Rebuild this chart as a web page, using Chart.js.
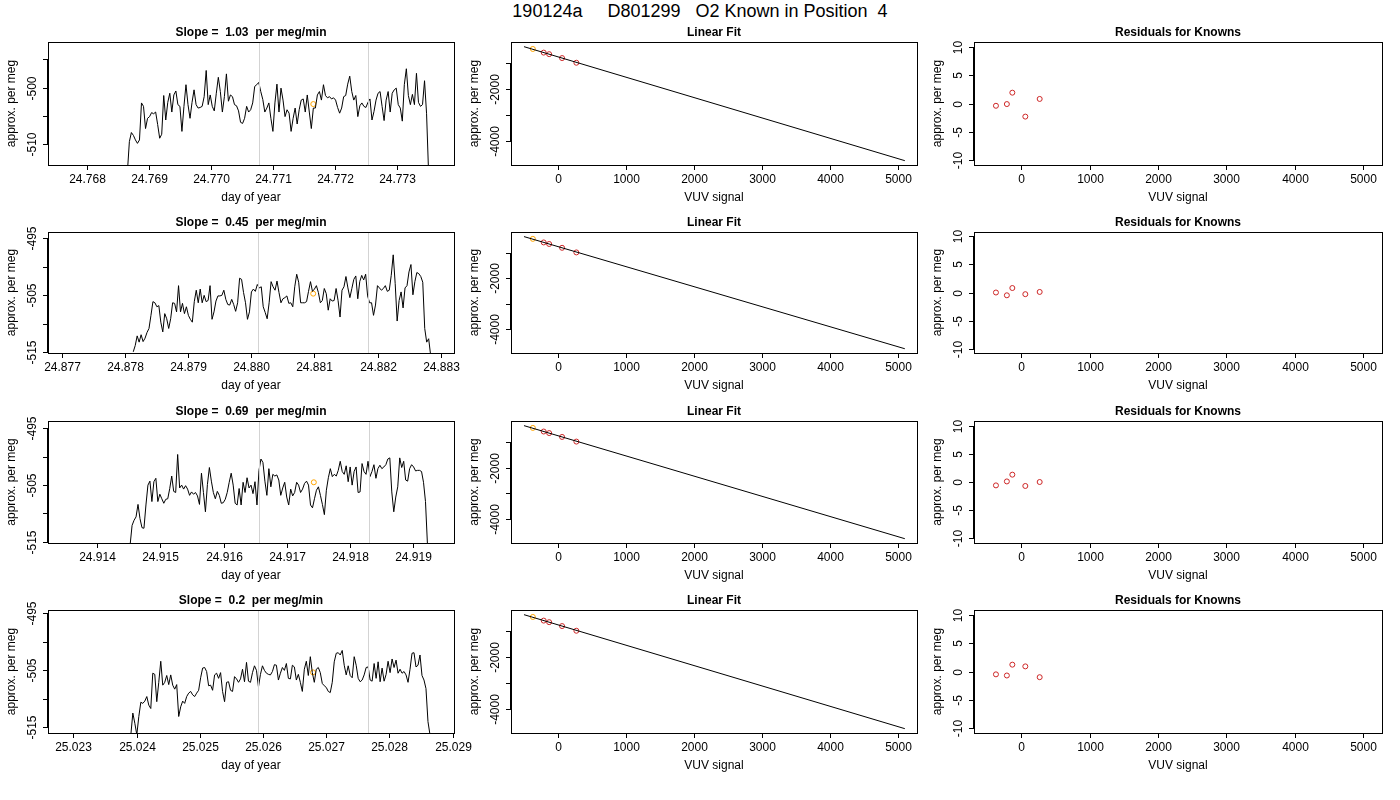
<!DOCTYPE html>
<html>
<head>
<meta charset="utf-8">
<script src="https://cdn.jsdelivr.net/npm/chart.js@4.4.1/dist/chart.umd.min.js"></script>
<style>
  body { margin: 0; background: #fff; width: 1400px; height: 800px; position: relative; overflow: hidden; font-family: "Liberation Sans", Arial, sans-serif; }
  #main { position: absolute; left: 0; top: 0; width: 1400px; text-align: center; font-size: 18px; line-height: 22px; white-space: pre; }
  canvas { position: absolute; }
</style>
</head>
<body>
<div id="main">190124a     D801299   O2 Known in Position  4</div>
<script>
// ---- data ----
var slopes = ['1.03', '0.45', '0.69', '0.2'];

// time series: start / end day of year, values evenly spaced between
var tsStart = [24.76865, 24.87813, 24.91452, 25.02391];
var tsEnd = [24.77351, 24.88284, 24.91923, 25.02864];
var tsXMin = [24.76737, 24.87678, 24.91322, 25.02260];
var tsXMax = [24.77392, 24.88321, 24.91965, 25.02902];
var tsYMin = [-513.6, -515.1, -515.2, -516.0];
var tsYMax = [-492.0, -493.9, -493.7, -494.4];
var tsXTicks = [
  [24.768, 24.769, 24.770, 24.771, 24.772, 24.773],
  [24.877, 24.878, 24.879, 24.880, 24.881, 24.882, 24.883],
  [24.914, 24.915, 24.916, 24.917, 24.918, 24.919],
  [25.023, 25.024, 25.025, 25.026, 25.027, 25.028, 25.029]
];
var tsYTicks = [-515, -510, -505, -500, -495];
var tsYLabelled = [[-510, -500], [-515, -505, -495], [-515, -505, -495], [-515, -505, -495]];

// grey vertical markers and the orange point
var markerA = [24.77077, 24.88011, 24.91656, 25.02592];
var markerB = [24.77254, 24.88185, 24.91830, 25.02766];
var orangeT = [24.77165, 24.88098, 24.91743, 25.02679];
var orangeV = [-502.9, -504.7, -504.5, -505.35];

var series1 = [-515, -509.5, -507.9, -508.4, -509.2, -509.8, -509.2, -502.7, -503.3, -507.2, -505.4, -505.1, -504.4, -504.6, -504.3, -506.5, -508.9, -508.2, -501.4, -505.7, -502.6, -501.0, -504.3, -501.3, -500.6, -503.0, -503.3, -507.7, -503.3, -499.5, -503.0, -505.4, -502.6, -500.4, -503.0, -503.6, -503.5, -503.3, -501.6, -497.0, -503.0, -501.3, -503.3, -504.1, -501.0, -498.2, -500.7, -504.3, -501.6, -497.6, -502.4, -501.3, -501.6, -503.0, -503.2, -504.1, -506.1, -506.3, -505.4, -503.3, -504.3, -503.9, -502.7, -499.8, -499.5, -499.1, -500.7, -502.1, -504.3, -503.6, -502.7, -505.4, -507.7, -502.7, -499.4, -504.3, -500.1, -502.2, -505.1, -503.9, -504.5, -507.7, -505.4, -503.6, -506.4, -503.9, -502.2, -502.0, -504.3, -501.3, -504.3, -507.2, -503.6, -503.6, -501.3, -500.7, -502.2, -499.5, -501.4, -501.8, -501.6, -502.0, -501.8, -502.2, -503.5, -504.5, -503.6, -501.6, -501.4, -499.4, -498.0, -500.7, -502.2, -501.4, -505.1, -503.2, -502.7, -503.3, -503.5, -502.6, -502.0, -505.7, -504.2, -502.2, -501.0, -500.7, -503.3, -505.8, -502.2, -500.7, -504.3, -501.0, -500.4, -500.1, -503.0, -503.6, -505.9, -499.5, -496.7, -501.4, -503.0, -501.2, -503.0, -497.5, -502.6, -503.3, -503.0, -498.8, -504.6, -515];
var series2 = [-514.9, -513.8, -512.1, -513.2, -511.9, -513.1, -512.5, -511.5, -510.8, -508.5, -506.1, -506.3, -507.0, -506.8, -509.7, -511.4, -508.2, -509.1, -510.8, -509.1, -506.3, -506.4, -507.9, -503.3, -507.9, -506.4, -508.2, -507.0, -508.5, -509.2, -509.7, -506.1, -504.1, -506.3, -503.9, -506.3, -505.0, -506.1, -505.9, -503.3, -509.2, -507.9, -506.0, -505.1, -505.1, -505.0, -504.1, -505.7, -506.6, -506.7, -505.7, -506.6, -507.8, -506.3, -502.0, -502.2, -504.5, -506.3, -509.2, -507.9, -504.4, -503.9, -504.3, -503.1, -503.7, -503.5, -507.0, -508.0, -509.1, -506.3, -502.6, -503.5, -504.1, -502.5, -504.5, -506.3, -505.6, -505.4, -505.1, -506.4, -506.3, -507.0, -503.5, -501.3, -502.7, -506.3, -506.3, -506.3, -506.1, -504.3, -502.6, -504.3, -503.9, -503.3, -504.5, -506.3, -505.9, -503.8, -504.7, -507.6, -505.6, -506.0, -505.9, -503.8, -505.9, -508.8, -504.1, -503.5, -501.7, -503.7, -505.4, -503.8, -502.2, -501.6, -505.6, -502.6, -501.5, -502.3, -501.3, -505.1, -506.3, -506.3, -508.5, -506.7, -503.3, -503.7, -504.1, -503.8, -503.3, -504.3, -504.1, -501.5, -497.9, -502.9, -509.5, -505.9, -504.4, -507.2, -503.7, -503.3, -500.9, -499.6, -504.9, -502.6, -501.0, -501.2, -501.7, -502.7, -510.8, -513.2, -512.6, -515.5];
var series3 = [-515.6, -512.1, -511.2, -510.6, -508.4, -510.9, -512.5, -512.6, -508.5, -505.0, -504.3, -507.9, -504.4, -503.8, -507.9, -506.6, -507.4, -508.2, -507.5, -507.4, -505.6, -503.4, -506.1, -506.3, -499.6, -505.5, -505.0, -505.7, -505.1, -505.7, -506.8, -506.2, -506.6, -506.3, -506.9, -508.4, -502.9, -506.3, -509.7, -504.9, -501.9, -504.3, -506.3, -507.4, -506.1, -506.8, -508.2, -508.1, -507.5, -506.3, -504.5, -502.9, -505.0, -508.2, -508.5, -505.6, -508.5, -504.5, -506.3, -503.7, -505.5, -505.0, -506.5, -504.4, -508.5, -502.4, -500.4, -501.0, -504.3, -506.8, -502.1, -505.3, -503.1, -503.4, -503.2, -504.1, -506.8, -505.5, -504.5, -507.1, -508.5, -505.7, -506.9, -506.3, -504.5, -505.0, -506.3, -505.7, -504.7, -504.3, -505.0, -508.5, -509.0, -507.4, -505.9, -505.3, -506.8, -508.4, -510.2, -505.9, -503.7, -502.1, -503.5, -503.1, -503.4, -502.4, -500.8, -502.6, -503.1, -501.6, -504.4, -501.8, -505.0, -502.6, -501.8, -506.3, -506.2, -501.2, -502.6, -503.1, -500.8, -503.5, -502.6, -501.4, -503.8, -502.1, -501.5, -502.1, -501.8, -501.4, -500.4, -500.2, -506.2, -509.7, -507.1, -505.3, -500.2, -501.9, -500.8, -504.1, -504.3, -502.1, -501.4, -501.8, -502.5, -502.4, -502.4, -502.6, -504.5, -507.9, -515.6];
var series4 = [-516.3, -512.5, -514.3, -516.3, -513.1, -510.6, -510.8, -510.4, -509.6, -511.1, -511.7, -505.5, -505.7, -510.5, -507.1, -503.4, -507.6, -507.1, -505.9, -507.5, -505.8, -507.6, -508.3, -507.5, -513.1, -511.4, -510.4, -510.8, -509.6, -509.0, -508.7, -509.3, -509.6, -509.0, -508.5, -506.3, -504.6, -504.5, -505.2, -507.7, -507.6, -508.5, -505.8, -505.5, -506.4, -505.4, -508.7, -510.5, -507.1, -507.0, -508.5, -508.7, -506.1, -506.5, -507.1, -506.5, -504.8, -507.0, -503.6, -506.9, -507.1, -505.4, -504.2, -505.0, -507.9, -505.7, -504.2, -505.0, -505.5, -505.7, -505.8, -505.2, -504.0, -504.1, -506.7, -505.5, -504.5, -505.0, -503.8, -506.4, -506.5, -504.1, -504.4, -506.7, -505.7, -507.1, -508.7, -504.8, -503.4, -505.9, -502.6, -505.4, -507.1, -504.8, -504.5, -505.4, -507.3, -507.7, -508.0, -508.7, -508.9, -507.1, -503.5, -502.0, -501.9, -502.3, -501.5, -504.1, -505.8, -504.2, -505.9, -506.3, -502.6, -504.1, -506.4, -507.0, -506.7, -505.8, -504.5, -504.4, -506.7, -506.9, -503.8, -506.4, -503.5, -507.0, -504.6, -506.9, -505.7, -503.4, -505.4, -503.0, -504.5, -503.2, -505.5, -504.8, -505.5, -505.2, -505.8, -507.1, -504.8, -502.0, -501.9, -504.4, -504.1, -502.3, -505.9, -506.7, -508.2, -514.0, -516.3];
var tsSeries = [series1, series2, series3, series4];

// knowns: VUV signal vs approx. per meg, first one drawn orange
var knownX = [-370, -210, -130, 60, 270];
var knownY = [-460, -600, -660, -810, -990];
var fitSlope = -0.783;
var fitIntercept = -763;
var fitXRange = [-500, 5100];
var residuals = [
  [-0.4, -0.1, 1.9, -2.3, 0.8],
  [0.0, -0.5, 0.8, -0.3, 0.1],
  [-0.6, 0.1, 1.3, -0.7, 0.0],
  [-0.5, -0.7, 1.2, 0.9, -1.0]
];
var vuvTicks = [0, 1000, 2000, 3000, 4000, 5000];
var fitYTicks = [-4000, -3000, -2000, -1000];
var fitYLabelled = [-4000, -2000];
var resYTicks = [-10, -5, 0, 5, 10];

// ---- layout ----
var colLeft = [48, 511, 974], colRight = [454, 917, 1382];
var rowTop = [42, 232, 421, 610], rowBottom = [165, 353, 543, 733];
var PAD = { left: 48, right: 16, top: 22, bottom: 45 };
var FONT = '"Liberation Sans", Arial, sans-serif';

// R-style box, ticks and labels drawn with the chart's own scales
var rAxes = {
  id: 'rAxes',
  afterDraw: function (chart) {
    var o = chart.options.plugins.rAxes;
    var ctx = chart.ctx, a = chart.chartArea;
    var sx = chart.scales.x, sy = chart.scales.y;
    ctx.save();
    // grey markers
    (o.vlines || []).forEach(function (v) {
      var px = Math.round(sx.getPixelForValue(v)) + 0.5;
      ctx.strokeStyle = '#d3d3d3'; ctx.lineWidth = 1;
      ctx.beginPath(); ctx.moveTo(px, a.top); ctx.lineTo(px, a.bottom); ctx.stroke();
    });
    ctx.strokeStyle = '#000'; ctx.lineWidth = 1;
    ctx.strokeRect(Math.round(a.left) + 0.5, Math.round(a.top) + 0.5, Math.round(a.right - a.left), Math.round(a.bottom - a.top));
    ctx.fillStyle = '#000';
    ctx.font = '12px ' + FONT;
    // x ticks
    var xs = o.xTicks.map(function (v) { return Math.round(sx.getPixelForValue(v)) + 0.5; });
    ctx.beginPath(); ctx.moveTo(xs[0], a.bottom + 0.5); ctx.lineTo(xs[xs.length - 1], a.bottom + 0.5); ctx.stroke();
    ctx.textAlign = 'center'; ctx.textBaseline = 'middle';
    o.xTicks.forEach(function (v, i) {
      ctx.beginPath(); ctx.moveTo(xs[i], a.bottom); ctx.lineTo(xs[i], a.bottom + 5); ctx.stroke();
      ctx.fillText(Number(v).toFixed(o.xDecimals), xs[i], a.bottom + 15);
    });
    ctx.fillText(o.xTitle, (a.left + a.right) / 2, a.bottom + 33);
    // y ticks (labels rotated like R), only those inside the range
    var yIn = o.yTicks.filter(function (v) { return v >= sy.min && v <= sy.max; });
    var ys = yIn.map(function (v) { return Math.round(sy.getPixelForValue(v)) + 0.5; });
    ctx.beginPath(); ctx.moveTo(a.left - 0.5, ys[0]); ctx.lineTo(a.left - 0.5, ys[ys.length - 1]); ctx.stroke();
    yIn.forEach(function (v, i) {
      ctx.beginPath(); ctx.moveTo(a.left, ys[i]); ctx.lineTo(a.left - 5, ys[i]); ctx.stroke();
      if (o.yLabelled.indexOf(v) >= 0) {
        ctx.save(); ctx.translate(a.left - 15, ys[i]); ctx.rotate(-Math.PI / 2);
        ctx.fillText(String(v), 0, 0); ctx.restore();
      }
    });
    ctx.save(); ctx.translate(a.left - 36, (a.top + a.bottom) / 2); ctx.rotate(-Math.PI / 2);
    ctx.fillText(o.yTitle, 0, 0); ctx.restore();
    // panel title
    ctx.font = 'bold 12px ' + FONT;
    ctx.fillText(o.title, (a.left + a.right) / 2, a.top - 9);
    ctx.restore();
  }
};

function makePanel(col, row, datasets, xr, yr, axes) {
  var c = document.createElement('canvas');
  var pad = { left: PAD.left, right: col === 0 ? 28 : PAD.right, top: PAD.top, bottom: PAD.bottom };
  var w = colRight[col] - colLeft[col] + pad.left + pad.right;
  var h = rowBottom[row] - rowTop[row] + pad.top + pad.bottom;
  c.width = w; c.height = h;
  c.style.left = (colLeft[col] - pad.left) + 'px';
  c.style.top = (rowTop[row] - pad.top) + 'px';
  c.style.width = w + 'px'; c.style.height = h + 'px';
  document.body.appendChild(c);
  new Chart(c.getContext('2d'), {
    type: 'scatter',
    data: { datasets: datasets },
    options: {
      responsive: false, animation: false, devicePixelRatio: 1,
      layout: { padding: pad },
      scales: {
        x: { type: 'linear', min: xr[0], max: xr[1], display: false },
        y: { type: 'linear', min: yr[0], max: yr[1], display: false }
      },
      plugins: { legend: { display: false }, tooltip: { enabled: false }, rAxes: axes }
    },
    plugins: [rAxes]
  });
}

function circles(xs, ys, color) {
  return {
    data: xs.map(function (x, i) { return { x: x, y: ys[i] }; }),
    showLine: false, pointRadius: 2.5, pointBorderWidth: 1,
    pointBackgroundColor: 'rgba(0,0,0,0)', pointBorderColor: color
  };
}

for (var r = 0; r < 4; r++) {
  var vals = tsSeries[r];
  var step = (tsEnd[r] - tsStart[r]) / (vals.length - 1);
  var pts = vals.map(function (v, i) { return { x: tsStart[r] + i * step, y: v }; });
  makePanel(0, r, [
    { data: pts, showLine: true, borderColor: '#000', borderWidth: 1, pointRadius: 0, tension: 0 },
    circles([orangeT[r]], [orangeV[r]], '#ffa500')
  ], [tsXMin[r], tsXMax[r]], [tsYMin[r], tsYMax[r]], {
    title: 'Slope =  ' + slopes[r] + '  per meg/min',
    xTicks: tsXTicks[r], xDecimals: 3,
    yTicks: tsYTicks, yLabelled: tsYLabelled[r],
    xTitle: 'day of year', yTitle: 'approx. per meg',
    vlines: [markerA[r], markerB[r]]
  });

  var fitLine = fitXRange.map(function (x) { return { x: x, y: fitIntercept + fitSlope * x }; });
  makePanel(1, r, [
    { data: fitLine, showLine: true, borderColor: '#000', borderWidth: 1, pointRadius: 0 },
    circles(knownX.slice(1), knownY.slice(1), '#cd2626'),
    circles(knownX.slice(0, 1), knownY.slice(0, 1), '#ffa500')
  ], [-691, 5279], [-4923, -192], {
    title: 'Linear Fit', xTicks: vuvTicks, xDecimals: 0,
    yTicks: fitYTicks, yLabelled: fitYLabelled,
    xTitle: 'VUV signal', yTitle: 'approx. per meg'
  });

  makePanel(2, r, [
    circles(knownX, residuals[r], '#cd2626')
  ], [-691, 5279], [-10.8, 10.8], {
    title: 'Residuals for Knowns', xTicks: vuvTicks, xDecimals: 0,
    yTicks: resYTicks, yLabelled: resYTicks,
    xTitle: 'VUV signal', yTitle: 'approx. per meg'
  });
}
</script>
</body>
</html>
